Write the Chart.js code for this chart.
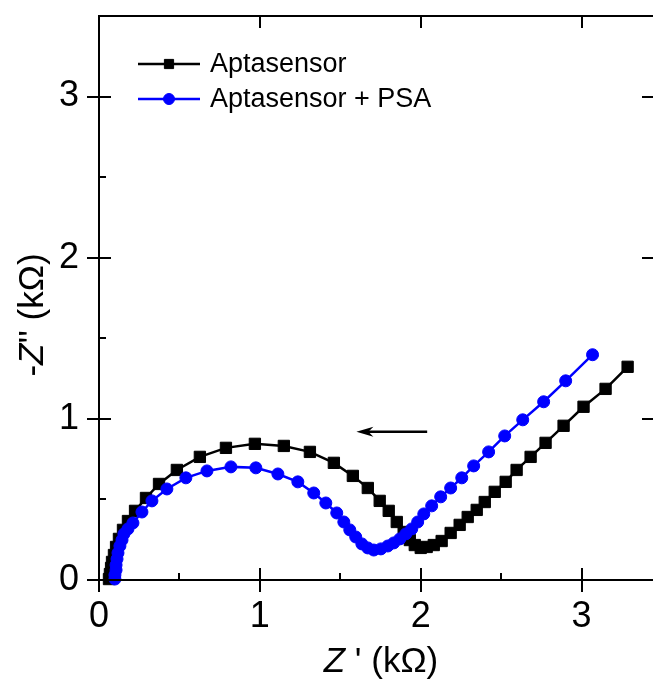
<!DOCTYPE html>
<html>
<head>
<meta charset="utf-8">
<script src="https://cdn.jsdelivr.net/npm/chart.js@4.4.1/dist/chart.umd.min.js"></script>
<style>
    html, body { margin: 0; padding: 0; background: #fff; overflow: hidden; }
    #wrap { width: 656px; height: 680px; }
</style>
</head>
<body>
<div id="wrap"><canvas id="nyquist_chart"></canvas></div>
<script>
"use strict";

// Nyquist data (kOhm)
var aptasensorZre = [0.062, 0.068, 0.075, 0.081, 0.093, 0.106, 0.124, 0.149, 0.180, 0.224,
    0.292, 0.373, 0.484, 0.627, 0.789, 0.969, 1.149, 1.311, 1.460, 1.578,
    1.671, 1.745, 1.801, 1.851, 1.894, 1.932, 1.963, 2.000, 2.037, 2.081,
    2.130, 2.186, 2.242, 2.292, 2.348, 2.398, 2.460, 2.528, 2.596, 2.683,
    2.776, 2.888, 3.012, 3.149, 3.286];
var aptasensorZim = [0.006, 0.037, 0.075, 0.112, 0.155, 0.205, 0.255, 0.311, 0.366, 0.429,
    0.509, 0.596, 0.683, 0.764, 0.820, 0.845, 0.832, 0.795, 0.727, 0.646,
    0.571, 0.491, 0.429, 0.360, 0.298, 0.248, 0.217, 0.199, 0.205, 0.217,
    0.242, 0.292, 0.342, 0.391, 0.435, 0.484, 0.547, 0.609, 0.683, 0.764,
    0.851, 0.957, 1.075, 1.186, 1.323];

var psaZre = [0.099, 0.099, 0.106, 0.106, 0.112, 0.118, 0.130, 0.143, 0.155, 0.180,
    0.211, 0.267, 0.329, 0.422, 0.540, 0.671, 0.820, 0.975, 1.112, 1.236,
    1.335, 1.410, 1.478, 1.522, 1.559, 1.596, 1.634, 1.671, 1.708, 1.752,
    1.795, 1.832, 1.870, 1.907, 1.944, 1.981, 2.019, 2.068, 2.124, 2.186,
    2.255, 2.329, 2.422, 2.522, 2.634, 2.764, 2.901, 3.068];
var psaZim = [0.006, 0.031, 0.062, 0.093, 0.130, 0.168, 0.211, 0.248, 0.286, 0.317,
    0.354, 0.422, 0.491, 0.565, 0.634, 0.677, 0.702, 0.696, 0.658, 0.609,
    0.540, 0.478, 0.416, 0.360, 0.311, 0.267, 0.224, 0.199, 0.186, 0.193,
    0.211, 0.230, 0.255, 0.286, 0.317, 0.360, 0.410, 0.460, 0.516, 0.571,
    0.634, 0.708, 0.795, 0.894, 0.994, 1.106, 1.236, 1.398];

var seriesLabels = ['Aptasensor', 'Aptasensor + PSA'];
var xTicks = [0, 1, 2, 3];
var yTicks = [0, 1, 2, 3];
var minorTicks = [0.5, 1.5, 2.5];
var arrowZre = [2.04, 1.60]; // tail, head
var arrowZim = 0.92;

var FONT = "'Liberation Sans', Arial, sans-serif";

function toPoints(xs, ys) {
    return xs.map(function (x, i) { return { x: x, y: ys[i] }; });
}

// frame, ticks, legend, arrow and axis titles drawn on top of the plot
var decorations = {
    id: 'decorations',
    afterDatasetsDraw: function (chart) {
        var ctx = chart.ctx;
        var area = chart.chartArea;
        var xs = chart.scales.x;
        var ys = chart.scales.y;

        ctx.save();
        ctx.strokeStyle = '#000';
        ctx.fillStyle = '#000';
        ctx.lineWidth = 2;
        ctx.lineCap = 'butt';

        // frame
        ctx.beginPath();
        ctx.rect(area.left, area.top, area.right - area.left, area.bottom - area.top);
        ctx.stroke();

        ctx.beginPath();
        xTicks.forEach(function (v) {
            var px = Math.round(xs.getPixelForValue(v));
            ctx.moveTo(px, area.bottom - 12); ctx.lineTo(px, area.bottom + 12);
            if (v > 0) { ctx.moveTo(px, area.top); ctx.lineTo(px, area.top + 12); }
        });
        yTicks.forEach(function (v) {
            var py = Math.round(ys.getPixelForValue(v));
            ctx.moveTo(area.left - 12, py); ctx.lineTo(area.left + 12, py);
            if (v > 0) { ctx.moveTo(area.right, py); ctx.lineTo(area.right - 12, py); }
        });
        minorTicks.forEach(function (v) {
            var px = Math.round(xs.getPixelForValue(v));
            var py = Math.round(ys.getPixelForValue(v));
            ctx.moveTo(px, area.bottom); ctx.lineTo(px, area.bottom - 7);
            ctx.moveTo(area.left, py); ctx.lineTo(area.left + 7, py);
        });
        ctx.stroke();

        // arrow
        var ax0 = xs.getPixelForValue(arrowZre[0]);
        var ax1 = xs.getPixelForValue(arrowZre[1]);
        var ay = ys.getPixelForValue(arrowZim);
        ctx.lineWidth = 2.5;
        ctx.beginPath();
        ctx.moveTo(ax0, ay); ctx.lineTo(ax1 + 10, ay);
        ctx.stroke();
        ctx.beginPath();
        ctx.moveTo(ax1, ay);
        ctx.lineTo(ax1 + 17, ay - 5);
        ctx.lineTo(ax1 + 12, ay);
        ctx.lineTo(ax1 + 17, ay + 5);
        ctx.closePath();
        ctx.fill();

        // legend
        chart.data.datasets.forEach(function (ds, i) {
            var ly = 64 + i * 35;
            ctx.strokeStyle = ds.borderColor;
            ctx.lineWidth = 2.5;
            ctx.beginPath();
            ctx.moveTo(138, ly); ctx.lineTo(200, ly);
            ctx.stroke();
            ctx.fillStyle = ds.backgroundColor;
            ctx.lineWidth = 1;
            Chart.helpers.drawPoint(ctx, {
                pointStyle: ds.pointStyle,
                radius: ds.pointStyle === 'rect' ? 6.5 : 5.5,
                borderWidth: 1,
                rotation: 0
            }, 169, ly);
            ctx.fillStyle = '#000';
            ctx.font = '27px ' + FONT;
            ctx.textBaseline = 'alphabetic';
            ctx.textAlign = 'left';
            ctx.fillText(ds.label, 210, ly + 8);
        });

        // x title: Z' (kΩ)
        ctx.fillStyle = '#000';
        ctx.textBaseline = 'alphabetic';
        ctx.textAlign = 'left';
        var italic = 'italic 35px ' + FONT;
        var normal = '35px ' + FONT;
        ctx.font = italic;
        var wz = ctx.measureText('Z').width;
        ctx.font = normal;
        var wr = ctx.measureText(" ' (k\u03A9)").width;
        var tx = 381 - (wz + wr) / 2;
        var tyBase = area.bottom + 92;
        ctx.font = italic; ctx.fillText('Z', tx, tyBase);
        ctx.font = normal; ctx.fillText(" ' (k\u03A9)", tx + wz, tyBase);

        // y title: -Z'' (kΩ), rotated
        ctx.translate(43, (area.top + area.bottom) / 2 + 17);
        ctx.rotate(-Math.PI / 2);
        var parts = [['-', normal], ['Z', italic], ["'' (k\u03A9)", normal]];
        var total = 0;
        parts.forEach(function (p) { ctx.font = p[1]; total += ctx.measureText(p[0]).width; });
        var cx = -total / 2;
        parts.forEach(function (p) {
            ctx.font = p[1];
            ctx.fillText(p[0], cx, 0);
            cx += ctx.measureText(p[0]).width;
        });

        ctx.restore();
    }
};

var NyquistChart = function () {
    var initChart = function () {
        var element = document.getElementById('nyquist_chart');
        if (!element) {
            return;
        }

        var config = {
            type: 'scatter',
            data: {
                datasets: [{
                    label: seriesLabels[0],
                    data: toPoints(aptasensorZre, aptasensorZim),
                    showLine: true,
                    borderColor: '#000000',
                    backgroundColor: '#000000',
                    borderWidth: 2.5,
                    pointStyle: 'rect',
                    pointRadius: 8,
                    pointBorderWidth: 1,
                    order: 1
                }, {
                    label: seriesLabels[1],
                    data: toPoints(psaZre, psaZim),
                    showLine: true,
                    borderColor: '#0000FF',
                    backgroundColor: '#0000FF',
                    borderWidth: 2.5,
                    pointStyle: 'circle',
                    pointRadius: 6,
                    pointBorderWidth: 1,
                    order: 0
                }]
            },
            options: {
                responsive: true,
                maintainAspectRatio: false,
                animation: false,
                events: [],
                clip: false,
                layout: {
                    autoPadding: false, // otherwise the point size eats the right margin
                    padding: { top: 16, right: 2, left: 0, bottom: 0 }
                },
                scales: {
                    x: {
                        type: 'linear',
                        position: 'bottom',
                        min: 0,
                        max: 3.45,
                        grid: { display: false, drawTicks: false },
                        border: { display: false },
                        afterBuildTicks: function (scale) {
                            scale.ticks = xTicks.map(function (v) { return { value: v }; });
                        },
                        afterFit: function (scale) {
                            scale.height = 100;
                            scale.paddingLeft = 0;
                            scale.paddingRight = 0;
                        },
                        ticks: {
                            padding: 15,
                            color: '#000',
                            font: { family: FONT, size: 36 },
                            maxRotation: 0
                        }
                    },
                    y: {
                        type: 'linear',
                        position: 'left',
                        min: 0,
                        max: 3.5,
                        grid: { display: false, drawTicks: false },
                        border: { display: false },
                        afterBuildTicks: function (scale) {
                            scale.ticks = yTicks.map(function (v) { return { value: v }; });
                        },
                        afterFit: function (scale) {
                            scale.width = 99;
                            scale.paddingTop = 0;
                            scale.paddingBottom = 0;
                        },
                        ticks: {
                            padding: 20,
                            color: '#000',
                            font: { family: FONT, size: 36 }
                        }
                    }
                },
                plugins: {
                    legend: { display: false },
                    tooltip: { enabled: false }
                }
            },
            plugins: [decorations]
        };

        new Chart(element.getContext('2d'), config);
    };

    return {
        init: function () {
            initChart();
        }
    };
}();

NyquistChart.init();
</script>
</body>
</html>
